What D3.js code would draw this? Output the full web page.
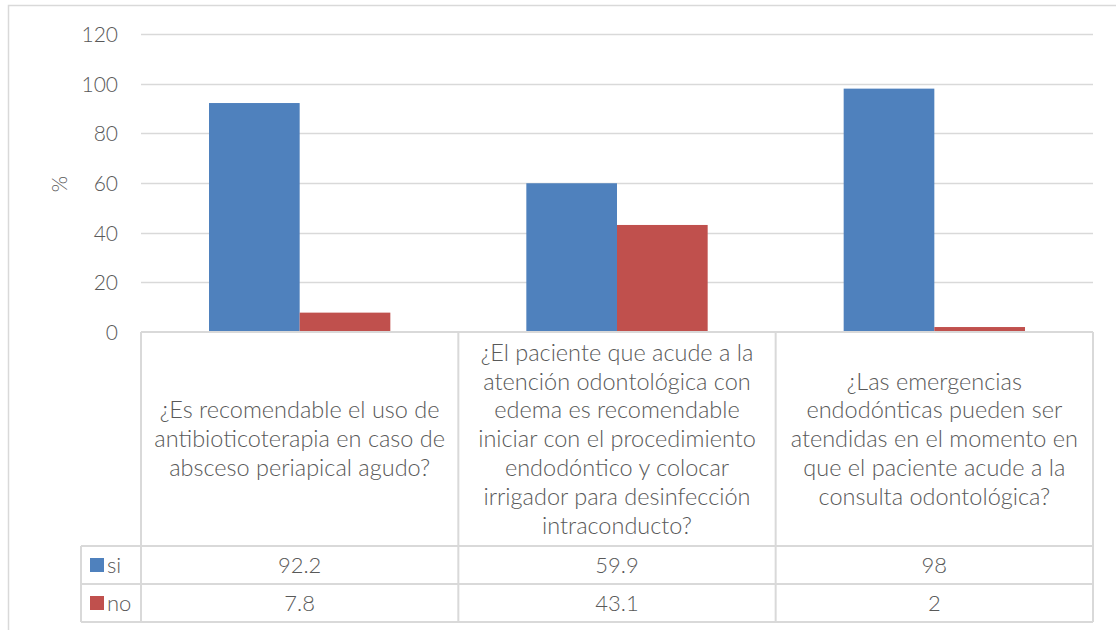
<!DOCTYPE html>
<html>
<head>
<meta charset="utf-8">
<script src="https://cdn.jsdelivr.net/npm/d3@7"></script>
<style>
  html, body { margin: 0; padding: 0; background: #fff; }
  svg { display: block; font-family: Lato, "Open Sans", sans-serif; font-weight: 300; }
</style>
</head>
<body>
<svg id="chart" width="1116" height="630"></svg>
<script>
// Survey questions (each entry holds the wrapped lines of one question)
const categories = [
  ["¿Es recomendable el uso de", "antibioticoterapia en caso de", "absceso periapical agudo?"],
  ["¿El paciente que acude a la", "atención odontológica con", "edema es recomendable",
   "iniciar con el procedimiento", "endodóntico y colocar", "irrigador para desinfección",
   "intraconducto?"],
  ["¿Las emergencias", "endodónticas pueden ser", "atendidas en el momento en",
   "que el paciente acude a la", "consulta odontológica?"]
];
const seriesNames = ["si", "no"];
const siValues = [92.2, 59.9, 98];
const noValues = [7.8, 43.1, 2];
const yTicks = [0, 20, 40, 60, 80, 100, 120];
const yTitle = "%";

const colors = { si: "#4f81bd", no: "#c0504d" };
const textColor = "#595959";
const gridColor = "#d9d9d9";

const svg = d3.select("#chart");

const plot = { left: 141, right: 1093, top: 34, bottom: 332 };
const headerBottom = 546, rowH = 38;
const labelLeft = 81;

const seriesData = { si: siValues, no: noValues };

const x0 = d3.scaleBand().domain(d3.range(categories.length))
  .range([plot.left, plot.right]).padding(0);
const x1 = d3.scaleBand().domain(seriesNames)
  .range([0, x0.bandwidth()]).paddingInner(0).paddingOuter(0.75);
const y = d3.scaleLinear().domain([0, 120]).range([plot.bottom, plot.top]);

// chart frame
svg.append("path")
  .attr("d", "M8.5,640 V5.5 H1120")
  .attr("fill", "none").attr("stroke", gridColor).attr("stroke-width", 1.5);

// gridlines
svg.append("g").selectAll("line").data(yTicks.filter(t => t > 0)).join("line")
  .attr("x1", plot.left).attr("x2", plot.right)
  .attr("y1", d => Math.round(y(d)) + 0.5).attr("y2", d => Math.round(y(d)) + 0.5)
  .attr("stroke", gridColor).attr("stroke-width", 1.5);

// y axis labels
const yAxis = d3.axisLeft(y).tickValues(yTicks).tickSize(0).tickPadding(0);
const gy = svg.append("g").attr("transform", "translate(118,0)").call(yAxis);
gy.select(".domain").remove();
gy.selectAll("text").attr("fill", textColor).attr("font-size", 21)
  .attr("font-family", "Lato, sans-serif").attr("font-weight", 300).attr("dy", "0.35em");

// y title
svg.append("text")
  .attr("transform", `translate(67,${(plot.top + plot.bottom) / 2 + 1}) rotate(-90)`)
  .attr("text-anchor", "middle").attr("fill", textColor).attr("font-size", 21)
  .text(yTitle);

// bars
const groups = svg.append("g").selectAll("g").data(categories).join("g")
  .attr("transform", (d, i) => `translate(${x0(i)},0)`);
groups.each(function (d, i) {
  d3.select(this).selectAll("rect").data(seriesNames).join("rect")
    .attr("x", s => x1(s)).attr("width", x1.bandwidth())
    .attr("y", s => y(seriesData[s][i]))
    .attr("height", s => y(0) - y(seriesData[s][i]))
    .attr("fill", s => colors[s]);
});

// data table
const tbl = svg.append("g").attr("fill", "none").attr("stroke", gridColor).attr("stroke-width", 2);
const tableBottom = headerBottom + rowH * seriesNames.length;
// horizontal lines
tbl.append("line").attr("x1", plot.left).attr("x2", plot.right).attr("y1", plot.bottom).attr("y2", plot.bottom);
[0, 1, 2].forEach(k => {
  tbl.append("line").attr("x1", labelLeft).attr("x2", plot.right)
    .attr("y1", headerBottom + rowH * k).attr("y2", headerBottom + rowH * k);
});
// vertical lines
d3.range(categories.length + 1).forEach(i => {
  const xx = i < categories.length ? x0(i) : plot.right;
  tbl.append("line").attr("x1", xx).attr("x2", xx).attr("y1", plot.bottom).attr("y2", tableBottom);
});
tbl.append("line").attr("x1", labelLeft).attr("x2", labelLeft).attr("y1", headerBottom).attr("y2", tableBottom);

// category header text
const lineH = 28.8;
const headMid = (plot.bottom + headerBottom) / 2;
categories.forEach((lines, i) => {
  const cx = x0(i) + x0.bandwidth() / 2;
  const t = svg.append("text").attr("text-anchor", "middle").attr("fill", textColor)
    .attr("font-size", 23.5);
  lines.forEach((ln, k) => {
    t.append("tspan").attr("x", cx)
      .attr("y", headMid + (k - (lines.length - 1) / 2) * lineH)
      .attr("dy", "0.35em").text(ln);
  });
});

// series rows: legend key, name, values
seriesNames.forEach((s, r) => {
  const rowMid = headerBottom + rowH * r + rowH / 2;
  svg.append("rect").attr("x", 90).attr("y", rowMid - 7).attr("width", 14).attr("height", 14)
    .attr("fill", colors[s]);
  svg.append("text").attr("x", 107).attr("y", rowMid).attr("dy", "0.35em")
    .attr("fill", textColor).attr("font-size", 22).text(s);
  seriesData[s].forEach((v, i) => {
    svg.append("text").attr("x", x0(i) + x0.bandwidth() / 2).attr("y", rowMid)
      .attr("dy", "0.35em").attr("text-anchor", "middle")
      .attr("fill", textColor).attr("font-size", 22).text(v);
  });
});
</script>
</body>
</html>
